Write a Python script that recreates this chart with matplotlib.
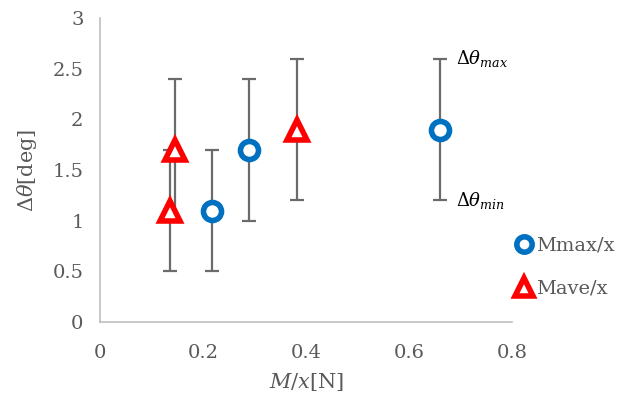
import matplotlib.pyplot as plt

# Data
mmax_x = [0.217, 0.289, 0.660]
mmax_y = [1.1, 1.7, 1.9]
mmax_lo = [0.5, 1.0, 1.2]
mmax_hi = [1.7, 2.4, 2.6]

mave_x = [0.136, 0.146, 0.383]
mave_y = [1.1, 1.7, 1.9]
mave_lo = [0.5, 1.0, 1.2]
mave_hi = [1.7, 2.4, 2.6]

plt.rcParams['font.family'] = ['DejaVu Serif']
plt.rcParams['mathtext.fontset'] = 'dejavuserif'
gray = '#595959'
bar_gray = '#6b6b6b'

fig = plt.figure(figsize=(6.3, 4.03), dpi=100)
ax = fig.add_axes([0.159, 0.201, 0.654, 0.754])

# Error bars
def err(y, lo, hi):
    return [[v - l for v, l in zip(y, lo)], [h - v for v, h in zip(y, hi)]]

ax.errorbar(mmax_x, mmax_y, yerr=err(mmax_y, mmax_lo, mmax_hi), fmt='none',
            ecolor=bar_gray, elinewidth=1.6, capsize=5, capthick=1.6, zorder=2)
ax.errorbar(mave_x, mave_y, yerr=err(mave_y, mave_lo, mave_hi), fmt='none',
            ecolor=bar_gray, elinewidth=1.6, capsize=5, capthick=1.6, zorder=2)

# Markers
ax.plot(mmax_x, mmax_y, 'o', ms=13, mfc='white', mec='#0070C0', mew=4,
        ls='none', label='Mmax/x', zorder=3)
ax.plot(mave_x, mave_y, '^', ms=15, mfc='white', mec='#FF0000', mew=4,
        ls='none', label='Mave/x', zorder=3)

# Annotations
ax.text(0.69, 2.6, r'$\Delta\theta_{max}$', fontsize=13, va='center', ha='left', color='black')
ax.text(0.69, 1.2, r'$\Delta\theta_{min}$', fontsize=13, va='center', ha='left', color='black')

ax.set_xlim(0, 0.8)
ax.set_ylim(0, 3)
ax.set_xticks([0, 0.2, 0.4, 0.6, 0.8])
ax.set_xticklabels(['0', '0.2', '0.4', '0.6', '0.8'])
ax.set_yticks([0, 0.5, 1, 1.5, 2, 2.5, 3])
ax.set_yticklabels(['0', '0.5', '1', '1.5', '2', '2.5', '3'])
ax.tick_params(length=0, labelsize=14, colors=gray, pad=12)
ax.tick_params(axis='x', pad=16)

for s in ['top', 'right']:
    ax.spines[s].set_visible(False)
for s in ['left', 'bottom']:
    ax.spines[s].set_color('#bfbfbf')
    ax.spines[s].set_linewidth(1.2)

ax.set_xlabel(r'$\mathit{M/x}$[N]', fontsize=15, color=gray, labelpad=6)
ax.set_ylabel(r'$\mathit{\Delta\theta}$[deg]', fontsize=15, color=gray, labelpad=10)

ax.legend(loc='center left', bbox_to_anchor=(0.955, 0.18), frameon=False,
          fontsize=14, labelcolor=gray, handletextpad=0.0, labelspacing=1.3,
          markerscale=0.85, handlelength=1.3)

fig.savefig('out.png', dpi=100)
